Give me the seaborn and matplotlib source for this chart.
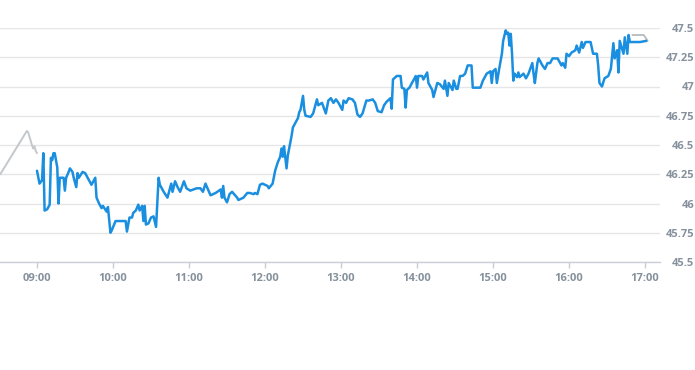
import pandas as pd
import seaborn as sns
import matplotlib.pyplot as plt
import matplotlib.dates as mdates

DAY = '2024-01-02 '

# pre-market (gray)
pre_times = ['08:31', '08:52', '08:53', '08:56', '08:57', '08:58', '08:59', '09:00']
pre_prices = [46.25, 46.62, 46.61, 46.50, 46.47, 46.49, 46.45, 46.43]

# regular session (blue)
reg_times = [
    '09:00', '09:02', '09:04', '09:05', '09:06', '09:08', '09:10', '09:11', '09:12', '09:13',
    '09:14', '09:16', '09:17', '09:18', '09:21', '09:22', '09:23', '09:25', '09:26', '09:28',
    '09:29', '09:31', '09:32', '09:33', '09:36', '09:38', '09:40', '09:43', '09:46', '09:47',
    '09:49', '09:51', '09:52', '09:55', '09:56', '09:58', '09:59', '10:02', '10:10', '10:11',
    '10:13', '10:15', '10:16', '10:18', '10:20', '10:21', '10:23', '10:24', '10:25', '10:26',
    '10:28', '10:30', '10:32', '10:34', '10:36', '10:37', '10:40', '10:43', '10:46', '10:47',
    '10:49', '10:51', '10:53', '10:56', '10:58', '11:01', '11:06', '11:09', '11:11', '11:13',
    '11:17', '11:21', '11:25', '11:26', '11:27', '11:28', '11:30', '11:32', '11:34', '11:38',
    '11:39', '11:43', '11:46', '11:48', '11:51', '11:52', '11:54', '11:56', '11:58', '12:02',
    '12:03', '12:06', '12:08', '12:10', '12:12', '12:13', '12:14', '12:15', '12:17', '12:18',
    '12:21', '12:22', '12:25', '12:26', '12:27', '12:28', '12:30', '12:31', '12:32', '12:36',
    '12:38', '12:41', '12:42', '12:45', '12:48', '12:50', '12:52', '12:54', '12:56', '12:58',
    '13:01', '13:02', '13:04', '13:06', '13:09', '13:11', '13:13', '13:15', '13:17', '13:20',
    '13:22', '13:25', '13:27', '13:29', '13:32', '13:34', '13:36', '13:39', '13:40', '13:41',
    '13:44', '13:47', '13:48', '13:50', '13:51', '13:52', '13:54', '13:57', '13:59', '14:00',
    '14:01', '14:04', '14:05', '14:08', '14:09', '14:12', '14:13', '14:16', '14:18', '14:21',
    '14:22', '14:24', '14:25', '14:28', '14:29', '14:31', '14:32', '14:34', '14:36', '14:38',
    '14:40', '14:43', '14:44', '14:50', '14:52', '14:55', '14:58', '14:59', '15:00', '15:02',
    '15:03', '15:05', '15:07', '15:08', '15:10', '15:11', '15:12', '15:13', '15:14', '15:15',
    '15:16', '15:17', '15:19', '15:20', '15:21', '15:24', '15:26', '15:28', '15:31', '15:32',
    '15:33', '15:35', '15:36', '15:39', '15:41', '15:43', '15:45', '15:47', '15:51', '15:54',
    '15:55', '15:57', '15:58', '16:00', '16:02', '16:05', '16:06', '16:08', '16:10', '16:11',
    '16:13', '16:17', '16:19', '16:22', '16:23', '16:24', '16:26', '16:28', '16:31', '16:33',
    '16:35', '16:36', '16:38', '16:39', '16:40', '16:43', '16:44', '16:46', '16:47', '16:48',
    '16:50', '16:56', '17:01',
]
reg_prices = [
    46.28, 46.17, 46.20, 46.43, 45.94, 45.95, 45.99, 46.39, 46.37, 46.43,
    46.43, 46.31, 46.00, 46.22, 46.22, 46.11, 46.22, 46.27, 46.30, 46.27,
    46.22, 46.14, 46.26, 46.22, 46.27, 46.26, 46.22, 46.16, 46.22, 46.05,
    46.00, 45.96, 45.98, 45.93, 45.97, 45.75, 45.77, 45.85, 45.85, 45.76,
    45.88, 45.88, 45.92, 45.94, 45.99, 45.94, 45.98, 45.85, 45.98, 45.82,
    45.83, 45.88, 45.89, 45.80, 46.22, 46.16, 46.10, 46.05, 46.17, 46.10,
    46.19, 46.14, 46.10, 46.19, 46.13, 46.11, 46.13, 46.13, 46.10, 46.17,
    46.07, 46.09, 46.12, 46.05, 46.15, 46.05, 46.01, 46.08, 46.10, 46.05,
    46.03, 46.05, 46.09, 46.09, 46.08, 46.09, 46.08, 46.16, 46.17, 46.15,
    46.13, 46.17, 46.28, 46.35, 46.40, 46.47, 46.40, 46.49, 46.30, 46.41,
    46.58, 46.65, 46.71, 46.73, 46.78, 46.80, 46.92, 46.80, 46.75, 46.74,
    46.77, 46.89, 46.84, 46.86, 46.77, 46.88, 46.90, 46.86, 46.89, 46.86,
    46.80, 46.88, 46.86, 46.90, 46.89, 46.86, 46.76, 46.74, 46.77, 46.88,
    46.88, 46.89, 46.86, 46.79, 46.78, 46.84, 46.87, 46.90, 46.81, 47.06,
    47.09, 47.09, 46.99, 46.98, 46.82, 46.97, 46.99, 47.05, 47.09, 46.99,
    47.09, 47.09, 47.06, 47.12, 47.03, 46.97, 46.91, 47.03, 47.02, 46.98,
    47.05, 46.92, 47.03, 46.97, 47.05, 46.98, 46.98, 47.09, 47.09, 47.11,
    47.18, 47.18, 46.99, 46.99, 47.05, 47.11, 47.13, 47.03, 47.13, 47.15,
    47.03, 47.16, 47.28, 47.39, 47.48, 47.45, 47.46, 47.35, 47.45, 47.28,
    47.05, 47.11, 47.08, 47.12, 47.08, 47.11, 47.07, 47.11, 47.20, 47.11,
    47.03, 47.20, 47.24, 47.18, 47.15, 47.20, 47.20, 47.24, 47.24, 47.18,
    47.20, 47.16, 47.28, 47.26, 47.29, 47.31, 47.35, 47.29, 47.38, 47.33,
    47.38, 47.38, 47.28, 47.28, 47.18, 47.03, 47.00, 47.07, 47.09, 47.15,
    47.37, 47.24, 47.31, 47.12, 47.39, 47.28, 47.42, 47.28, 47.44, 47.38,
    47.38, 47.38, 47.39,
]

# after-hours (gray)
post_times = ['16:50', '16:59', '17:02']
post_prices = [47.44, 47.44, 47.39]

y_ticks = [45.5, 45.75, 46, 46.25, 46.5, 46.75, 47, 47.25, 47.5]
x_ticks = ['09:00', '10:00', '11:00', '12:00', '13:00', '14:00', '15:00', '16:00', '17:00']

frames = []
for seg, tt, pp in [('pre', pre_times, pre_prices), ('reg', reg_times, reg_prices),
                    ('post', post_times, post_prices)]:
    frames.append(pd.DataFrame({'time': pd.to_datetime([DAY + t for t in tt]),
                                'price': pp, 'segment': seg}))
df = pd.concat(frames, ignore_index=True)

sns.set_style('white')
plt.rcParams['font.family'] = ['Open Sans', 'DejaVu Sans']

fig = plt.figure(figsize=(6.95, 3.7), dpi=100)
ax = fig.add_axes([0, 1 - 262 / 370, 660 / 695, (262 - 28) / 370])

palette = {'pre': '#c3c8cc', 'reg': '#1a8fe0', 'post': '#b9bfc4'}
sns.lineplot(data=df[df.segment != 'reg'], x='time', y='price', hue='segment', units='segment',
             palette=palette, estimator=None, sort=False, legend=False, linewidth=1.4, ax=ax)
sns.lineplot(data=df[df.segment == 'reg'], x='time', y='price', color=palette['reg'],
             estimator=None, sort=False, legend=False, linewidth=1.8, ax=ax)
for ln in ax.lines:
    ln.set_clip_on(False)

ax.set_xlim(pd.Timestamp(DAY + '08:30:48'), pd.Timestamp(DAY + '17:11:48'))
ax.set_ylim(45.5, 47.5)
ax.set_xticks(pd.to_datetime([DAY + t for t in x_ticks]))
ax.xaxis.set_major_formatter(mdates.DateFormatter('%H:%M'))
ax.set_yticks(y_ticks)
ax.set_yticklabels(['%g' % v for v in y_ticks])
ax.yaxis.tick_right()

ax.grid(axis='y', color='#e6e6e6', linewidth=1)
ax.grid(axis='x', visible=False)
for s in ['top', 'left', 'right']:
    ax.spines[s].set_visible(False)
ax.spines['bottom'].set_color('#c9cfd6')
ax.spines['bottom'].set_linewidth(1)

lab_color = '#85919d'
ax.tick_params(axis='x', length=4, width=1, color='#c9cfd6', pad=4, labelsize=8,
               labelcolor=lab_color, bottom=True)
ax.tick_params(axis='y', length=0, pad=24.5, labelsize=8, labelcolor=lab_color)
for lab in ax.get_xticklabels() + ax.get_yticklabels():
    lab.set_fontweight('bold')
for lab in ax.get_yticklabels():
    lab.set_horizontalalignment('right')

ax.set_xlabel('')
ax.set_ylabel('')
fig.savefig('out.png', dpi=100)
